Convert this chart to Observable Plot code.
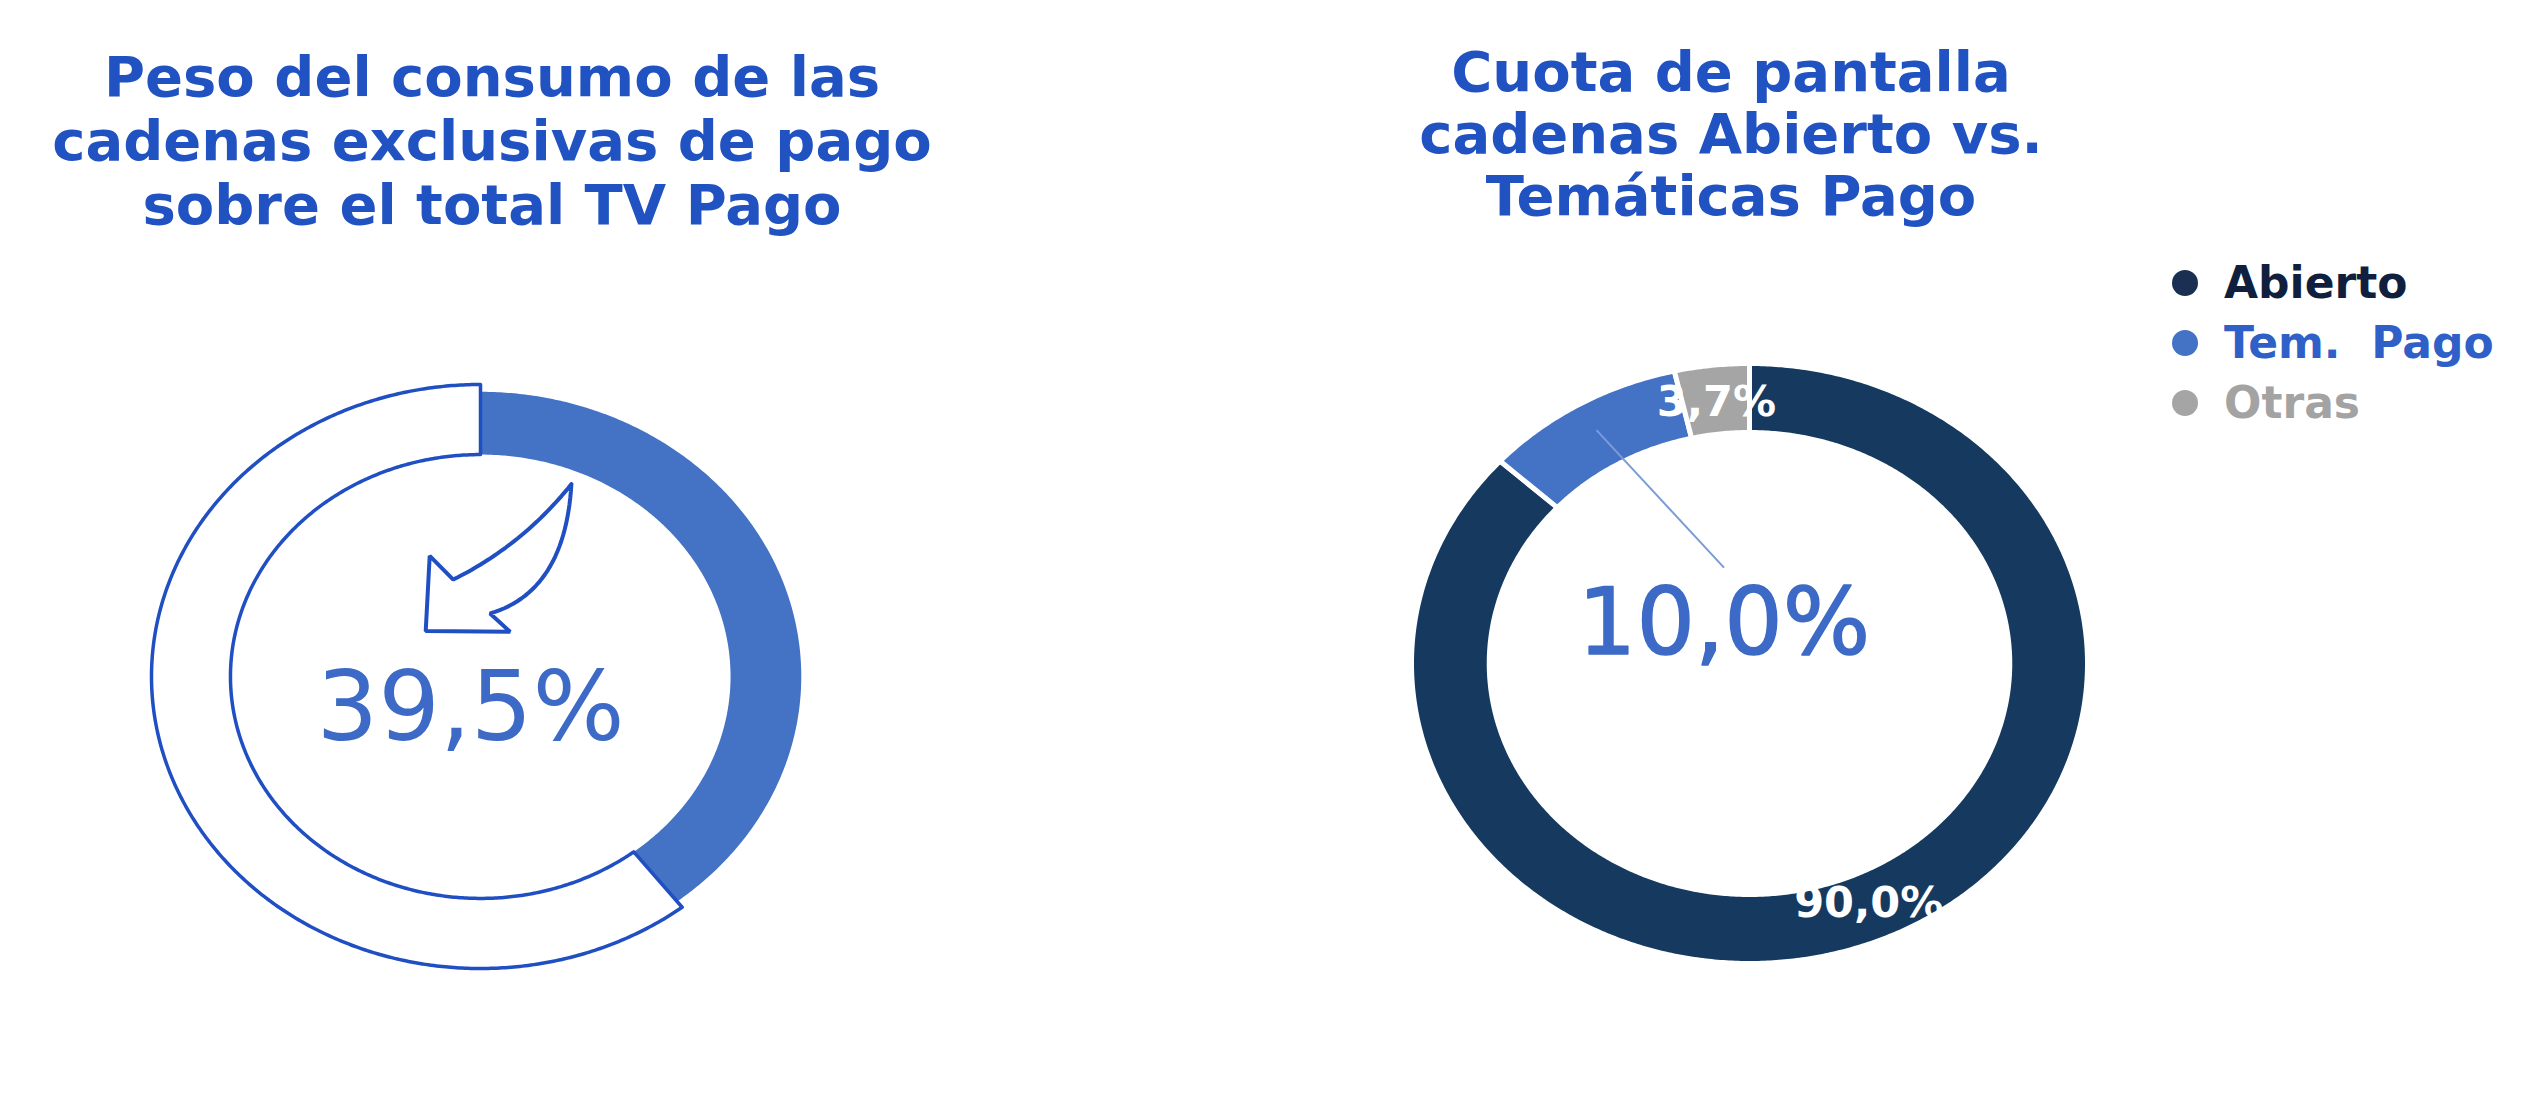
<!DOCTYPE html>
<html>
<head>
<meta charset="utf-8">
<script src="https://cdn.jsdelivr.net/npm/d3@7"></script>
<script src="https://cdn.jsdelivr.net/npm/@observablehq/plot@0.6"></script>
<style>
  html, body { margin: 0; padding: 0; background: #ffffff; }
  #root { position: relative; width: 2524px; height: 1100px; overflow: hidden; font-family: "DejaVu Sans", sans-serif; }
  .title { position: absolute; transform: translateX(-50%); text-align: center; white-space: nowrap;
           font-weight: bold; color: #2152c2; font-size: 56px; }
  .chart { position: absolute; }
  .legend { position: absolute; font-weight: bold; font-size: 44px; line-height: 60px; white-space: pre; }
  .legend .row { display: flex; align-items: center; }
  .legend .dot { width: 26px; height: 26px; border-radius: 50%; margin-right: 26px; flex: none; }
</style>
</head>
<body>
<div id="root"></div>
<script>
// ---------- data ----------
const leftTitle = ["Peso del consumo de las", "cadenas exclusivas de pago", "sobre el total TV Pago"];
const leftCategories = ["Exclusivas de pago", "Resto TV Pago"];
const leftValues = [39.5, 60.5];
const leftCenterLabel = "39,5%";

const rightTitle = ["Cuota de pantalla", "cadenas Abierto vs.", "Temáticas Pago"];
const rightCategories = ["Abierto", "Tem. Pago", "Otras"];
const rightLegendLabels = ["Abierto", "Tem.\u00a0 Pago", "Otras"];
const rightValues = [90.0, 10.0, 3.7];
const rightLabels = ["90,0%", "10,0%", "3,7%"];

// ---------- helpers ----------
const TAU = Math.PI * 2;
function slices(cats, values) {
  const total = d3.sum(values);
  let acc = 0;
  return cats.map((c, i) => {
    const a0 = acc / total * TAU; acc += values[i];
    const a1 = acc / total * TAU;
    return {cat: c, value: values[i], a0, a1, mid: (a0 + a1) / 2};
  });
}
function ring(sl, inner, outerOf, close) {
  const pts = [];
  for (const s of sl) {
    const outer = outerOf(s);
    const n = Math.max(2, Math.ceil((s.a1 - s.a0) / TAU * 720));
    const part = [];
    for (let i = 0; i <= n; i++) { const a = s.a0 + (s.a1 - s.a0) * i / n; part.push({cat: s.cat, x: outer * Math.sin(a), y: outer * Math.cos(a)}); }
    for (let i = n; i >= 0; i--) { const a = s.a0 + (s.a1 - s.a0) * i / n; part.push({cat: s.cat, x: inner * Math.sin(a), y: inner * Math.cos(a)}); }
    if (close) part.push({...part[0]});
    pts.push(...part);
  }
  return pts;
}
const polar = (a, r) => ({x: r * Math.sin(a), y: r * Math.cos(a)});

// curved-arrow glyph placed between a tail point T and a tip point P (local frame: a along P->T, b across)
function arrowGlyph(T, P) {
  const d = {x: T.x - P.x, y: T.y - P.y};
  const nrm = {x: -d.y, y: d.x};
  const at = (a, b) => ({x: P.x + a * d.x + b * nrm.x, y: P.y + a * d.y + b * nrm.y});
  const quad = (A, M, B, n) => {
    const C = {x: 2 * M.x - (A.x + B.x) / 2, y: 2 * M.y - (A.y + B.y) / 2};
    const out = [];
    for (let i = 0; i <= n; i++) {
      const t = i / n, u = 1 - t;
      out.push({x: u * u * A.x + 2 * u * t * C.x + t * t * B.x, y: u * u * A.y + 2 * u * t * C.y + t * t * B.y});
    }
    return out;
  };
  const tail = at(1, 0), up = at(0.28, 0.08), lo = at(0.26, -0.16);
  return [
    ...quad(tail, at(0.63, 0.0), up, 30),
    at(0.30, 0.24), at(0, 0), at(0.25, -0.29),
    ...quad(lo, at(0.60, -0.21), tail, 30)
  ];
}

const root = document.getElementById("root");
function addTitle(lines, cx, top, lh) {
  const d = document.createElement("div");
  d.className = "title";
  d.style.left = cx + "px"; d.style.top = top + "px"; d.style.lineHeight = lh + "px";
  d.innerHTML = lines.join("<br>");
  root.appendChild(d);
}
function addPlot(cx, cy, rx, ry, pad, cats, colors, marks) {
  const p = Plot.plot({
    width: 2 * (rx + pad), height: 2 * (ry + pad), margin: 0,
    x: {domain: [-(rx + pad) / rx, (rx + pad) / rx], axis: null},
    y: {domain: [-(ry + pad) / ry, (ry + pad) / ry], axis: null},
    color: {domain: cats, range: colors},
    style: {background: "transparent", overflow: "visible"},
    marks
  });
  p.classList.add("chart");
  p.style.left = (cx - rx - pad) + "px";
  p.style.top = (cy - ry - pad) + "px";
  root.appendChild(p);
}

// ---------- left donut ----------
addTitle(leftTitle, 492, 45, 64);
{
  const inner = 0.76;
  const sl = slices(leftCategories, leftValues);
  const pts = ring(sl, inner, s => s.cat === leftCategories[0] ? 0.975 : 1, true);
  const blue = sl[0], span = blue.a1 - blue.a0;
  const tail = polar(blue.a0 + span * 0.16, inner * 0.94);
  const tip = polar(blue.a0 - span * 0.33, inner * 0.30);
  const glyph = arrowGlyph(tail, tip);
  glyph.push({...glyph[0]});
  addPlot(480, 676, 329, 292, 30, leftCategories, ["#4472c4", "#ffffff"], [
    Plot.line(pts, {x: "x", y: "y", z: "cat", fill: "cat", stroke: null}),
    Plot.line(pts.filter(d => d.cat === leftCategories[1]), {x: "x", y: "y", stroke: "#1f4fc2", strokeWidth: 3.5}),
    Plot.line(glyph, {x: "x", y: "y", fill: "#ffffff", stroke: "#1f4fc2", strokeWidth: 4, strokeLinejoin: "miter"}),
    Plot.text([leftCenterLabel], {x: -0.03, y: -0.11, text: d => d, fill: "#3c6ac6", fontSize: 97, fontFamily: "DejaVu Sans", fontWeight: "normal"})
  ]);
}

// ---------- right donut ----------
addTitle(rightTitle, 1731, 41, 62);
{
  const inner = 0.77;
  const sl = slices(rightCategories, rightValues);
  const pts = ring(sl, inner, () => 1, true);
  const lab = sl.map((s, i) => ({...polar(s.mid, 0.875), text: rightLabels[i], cat: s.cat}));
  const tem = sl[1];
  const centerPos = polar(tem.mid, 0.15);
  const centerLabel = [{...centerPos, text: rightLabels[1]}];
  const start = polar(tem.mid, 0.9);
  const leader = [{x1: start.x, y1: start.y, x2: centerPos.x, y2: centerPos.y + 0.19}];
  addPlot(1749, 663, 338, 300, 30, rightCategories, ["#163a5f", "#4472c4", "#a5a5a5"], [
    Plot.line(pts, {x: "x", y: "y", z: "cat", fill: "cat", stroke: "#ffffff", strokeWidth: 5}),
    Plot.link(leader, {x1: "x1", y1: "y1", x2: "x2", y2: "y2", stroke: "#7c9bd8", strokeWidth: 2}),
    Plot.text(lab.filter(d => d.cat !== rightCategories[1]), {x: "x", y: "y", text: "text", fill: "#ffffff", fontSize: 43, fontWeight: "bold", fontFamily: "DejaVu Sans"}),
    Plot.text(centerLabel, {x: "x", y: "y", text: "text", fill: "#3c6ac6", stroke: "#3c6ac6", strokeWidth: 1.5, fontSize: 92, fontFamily: "DejaVu Sans"})
  ]);
}

// ---------- legend ----------
{
  const dotColors = ["#1b2f52", "#4472c4", "#a5a5a5"];
  const textColors = ["#0f1f3d", "#2f60c8", "#a3a3a3"];
  const lg = document.createElement("div");
  lg.className = "legend";
  lg.style.left = "2172px"; lg.style.top = "253px";
  rightCategories.forEach((c, i) => {
    const row = document.createElement("div");
    row.className = "row";
    const dot = document.createElement("span");
    dot.className = "dot"; dot.style.background = dotColors[i];
    const t = document.createElement("span");
    t.textContent = rightLegendLabels[i]; t.style.color = textColors[i];
    row.appendChild(dot); row.appendChild(t);
    lg.appendChild(row);
  });
  root.appendChild(lg);
}
</script>
</body>
</html>
